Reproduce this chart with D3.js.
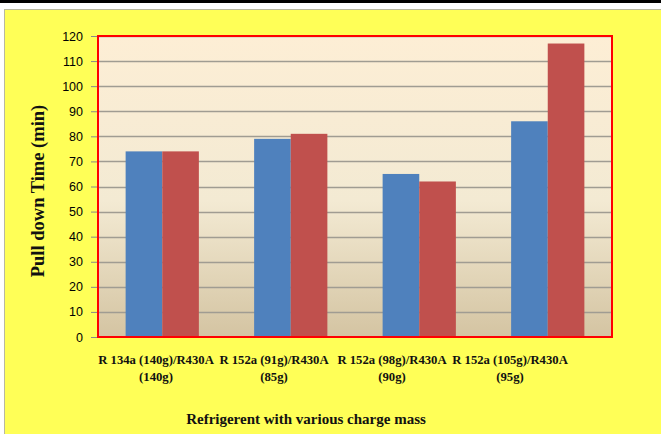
<!DOCTYPE html>
<html>
<head>
<meta charset="utf-8">
<script src="https://cdn.jsdelivr.net/npm/d3@7"></script>
<style>
  html, body { margin: 0; padding: 0; background: #ffffff; }
  svg { display: block; }
</style>
</head>
<body>
<svg id="chart" width="661" height="434"></svg>
<script>
// Pull-down time for each refrigerant / charge combination
const categories = [
  ["R 134a (140g)/R430A", "(140g)"],
  ["R 152a (91g)/R430A", "(85g)"],
  ["R 152a (98g)/R430A", "(90g)"],
  ["R 152a (105g)/R430A", "(95g)"]
];
const seriesA = [74, 79, 65, 86];   // blue bars
const seriesB = [74, 81, 62, 117];  // red bars
const yTicks = [0, 10, 20, 30, 40, 50, 60, 70, 80, 90, 100, 110, 120];

const svg = d3.select("#chart");
const W = 661, H = 434;
const plot = { left: 98, right: 612, top: 36, bottom: 337 };

// Outer frame: dark strip at top, yellow panel below
svg.append("rect").attr("x", 0).attr("y", 0).attr("width", W).attr("height", 3).attr("fill", "#000");
svg.append("rect").attr("x", 4.5).attr("y", 9.5).attr("width", W + 10).attr("height", H)
  .attr("fill", "#FFFF57").attr("stroke", "#b8b8a0").attr("stroke-width", 1);

// Plot background gradient
const defs = svg.append("defs");
const grad = defs.append("linearGradient").attr("id", "bg").attr("x1", 0).attr("y1", 0).attr("x2", 0).attr("y2", 1);
grad.append("stop").attr("offset", "0%").attr("stop-color", "#FDEED5");
grad.append("stop").attr("offset", "55%").attr("stop-color", "#F3EAD3");
grad.append("stop").attr("offset", "100%").attr("stop-color", "#D4C4A2");

svg.append("rect").attr("x", plot.left).attr("y", plot.top)
  .attr("width", plot.right - plot.left).attr("height", plot.bottom - plot.top)
  .attr("fill", "url(#bg)");

const x = d3.scaleBand().domain(d3.range(categories.length))
  .range([plot.left, plot.right]).paddingInner(0).paddingOuter(0);
const barW = x.bandwidth() * 0.285;
const y = d3.scaleLinear().domain([0, 120]).range([plot.bottom, plot.top]);

// Gridlines
svg.append("g").selectAll("line").data(yTicks.filter(d => d > 0)).join("line")
  .attr("x1", plot.left).attr("x2", plot.right)
  .attr("y1", d => Math.round(y(d)) + 0.5).attr("y2", d => Math.round(y(d)) + 0.5)
  .attr("stroke", "#a09c92").attr("stroke-width", 1.6);

// Bars
const groups = svg.append("g").selectAll("g").data(categories.map((c, i) => i)).join("g");
groups.append("rect")
  .attr("x", i => x(i) + x.bandwidth() / 2 - barW)
  .attr("y", i => y(seriesA[i]))
  .attr("width", barW)
  .attr("height", i => y(0) - y(seriesA[i]))
  .attr("fill", "#4F81BD");
groups.append("rect")
  .attr("x", i => x(i) + x.bandwidth() / 2)
  .attr("y", i => y(seriesB[i]))
  .attr("width", barW)
  .attr("height", i => y(0) - y(seriesB[i]))
  .attr("fill", "#C0504D");

// Plot border
svg.append("rect").attr("x", plot.left).attr("y", plot.top)
  .attr("width", plot.right - plot.left).attr("height", plot.bottom - plot.top)
  .attr("fill", "none").attr("stroke", "#FF0000").attr("stroke-width", 2);

// Y axis
const yAxis = d3.axisLeft(y).tickValues(yTicks).tickSize(6).tickPadding(8);
const ya = svg.append("g").attr("transform", `translate(${plot.left - 1},0)`).call(yAxis);
ya.select(".domain").remove();
ya.selectAll(".tick line").attr("stroke", "#888");
ya.selectAll(".tick text")
  .attr("font-family", "'Liberation Sans', Arial, sans-serif")
  .attr("font-size", 12.5).attr("fill", "#000");

// Category labels (two lines each)
const labelX = d3.scalePoint().domain(d3.range(categories.length)).range([156, 510]);
const lab = svg.append("g").selectAll("text").data(categories.map((c, i) => i)).join("text")
  .attr("text-anchor", "middle")
  .attr("font-family", "'Liberation Serif', 'Times New Roman', serif")
  .attr("font-weight", "bold").attr("font-size", 12.7).attr("fill", "#111");
lab.append("tspan").attr("x", i => labelX(i)).attr("y", 364).text(i => categories[i][0]);
lab.append("tspan").attr("x", i => labelX(i)).attr("y", 381).text(i => categories[i][1]);

// Axis titles
svg.append("text").attr("x", 306).attr("y", 424).attr("text-anchor", "middle")
  .attr("font-family", "'Liberation Serif', 'Times New Roman', serif")
  .attr("font-weight", "bold").attr("font-size", 15).attr("fill", "#111")
  .text("Refrigerent with various charge mass");

svg.append("text").attr("transform", "translate(44,191) rotate(-90)").attr("text-anchor", "middle")
  .attr("font-family", "'Liberation Serif', 'Times New Roman', serif")
  .attr("font-weight", "bold").attr("font-size", 18.5).attr("fill", "#111")
  .text("Pull down Time (min)");
</script>
</body>
</html>
